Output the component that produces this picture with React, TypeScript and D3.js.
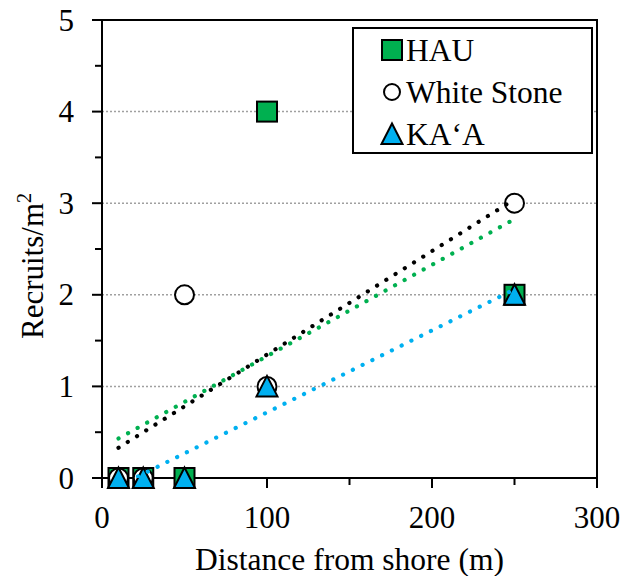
import React from "react";
import * as d3 from "d3";

// distance from shore (m) and recruits per m2 for each site
const distances = [10, 25, 50, 100, 250];
const hauValues = [0, 0, 0, 4, 2];
const whiteStoneValues = [0, 0, 2, 1, 3];
const kaaValues = [0, 0, 0, 1, 2];

const xTicks = [0, 100, 200, 300];
const xMinorTicks = [50, 150, 250];
const yTicks = [0, 1, 2, 3, 4, 5];
const yMinorTicks = [0.5, 1.5, 2.5, 3.5, 4.5];
const gridValues = [1, 2, 3, 4];

const GREEN = "#00B050";
const BLUE = "#00B0F0";
const FONT = "Liberation Serif, Times New Roman, DejaVu Serif, serif";

const W = 634;
const H = 576;
const plot = { left: 102, right: 597, top: 20, bottom: 478 };

// least squares line, same as the spreadsheet trendline
const fit = (xs: number[], ys: number[]) => {
  const mx = d3.mean(xs) as number;
  const my = d3.mean(ys) as number;
  const sxy = d3.sum(xs, (x, i) => (x - mx) * (ys[i] - my));
  const sxx = d3.sum(xs, (x) => (x - mx) ** 2);
  const slope = sxy / sxx;
  return (x: number) => my + slope * (x - mx);
};

const Marker = ({ kind, cx, cy, small = false }: { kind: string; cx: number; cy: number; small?: boolean }) => {
  if (kind === "square")
    return <rect x={cx - 10} y={cy - 10} width={20} height={20} fill={GREEN} stroke="#000" strokeWidth={2} />;
  if (kind === "circle")
    return <circle cx={cx} cy={cy} r={small ? 8 : 9.5} fill="#fff" stroke="#000" strokeWidth={2} />;
  return (
    <path
      d={`M${cx},${cy - 10.5}L${cx + 10.5},${cy + 10}L${cx - 10.5},${cy + 10}Z`}
      fill={BLUE}
      stroke="#000"
      strokeWidth={2}
    />
  );
};

export default function App() {
  const x = d3.scaleLinear().domain([0, 300]).range([plot.left, plot.right]);
  const y = d3.scaleLinear().domain([0, 5]).range([plot.bottom, plot.top]);

  const series = [
    { name: "HAU", values: hauValues, kind: "square", color: GREEN },
    { name: "White Stone", values: whiteStoneValues, kind: "circle", color: "#000" },
    { name: "KA\u2018A", values: kaaValues, kind: "triangle", color: BLUE },
  ];

  const line = d3
    .line<number[]>()
    .x((d) => x(d[0]))
    .y((d) => y(d[1]));

  const xExtent = d3.extent(distances) as [number, number];

  return (
    <svg width={W} height={H} style={{ position: "absolute", left: 0, top: 0, background: "#fff", fontFamily: FONT }}>
      <defs>
        <clipPath id="plotClip">
          <rect x={plot.left} y={plot.top} width={plot.right - plot.left} height={plot.bottom - plot.top} />
        </clipPath>
      </defs>

      {/* gridlines */}
      {gridValues.map((v) => (
        <line key={v} x1={plot.left} x2={plot.right} y1={y(v)} y2={y(v)} stroke="#A0A0A0" strokeWidth={1.5} strokeDasharray="2 2" />
      ))}

      {/* frame and axes */}
      <rect x={plot.left} y={plot.top} width={plot.right - plot.left} height={plot.bottom - plot.top} fill="none" stroke="#000" strokeWidth={2} />
      {xTicks.map((t) => (
        <line key={t} x1={x(t)} x2={x(t)} y1={plot.bottom} y2={plot.bottom + 10} stroke="#000" strokeWidth={2} />
      ))}
      {xMinorTicks.map((t) => (
        <line key={t} x1={x(t)} x2={x(t)} y1={plot.bottom} y2={plot.bottom + 7} stroke="#000" strokeWidth={2} />
      ))}
      {yTicks.map((t) => (
        <line key={t} x1={plot.left - 10} x2={plot.left} y1={y(t)} y2={y(t)} stroke="#000" strokeWidth={2} />
      ))}
      {yMinorTicks.map((t) => (
        <line key={t} x1={plot.left - 7} x2={plot.left} y1={y(t)} y2={y(t)} stroke="#000" strokeWidth={2} />
      ))}

      {/* tick labels */}
      {xTicks.map((t) => (
        <text key={t} x={x(t)} y={528} fontSize={31} textAnchor="middle">
          {t}
        </text>
      ))}
      {yTicks.map((t) => (
        <text key={t} x={74} y={y(t) + 10.5} fontSize={31} textAnchor="end">
          {t}
        </text>
      ))}

      {/* axis titles */}
      <text x={(plot.left + plot.right) / 2} y={570} fontSize={31.5} textAnchor="middle">
        Distance from shore (m)
      </text>
      <text transform="translate(43,266) rotate(-90)" fontSize={31} textAnchor="middle">
        Recruits/m<tspan fontSize={20} dy={-12}>2</tspan>
      </text>

      {/* markers */}
      {series.map((s) => (
        <g key={s.name}>
          {distances.map((d, i) => (
            <Marker key={i} kind={s.kind} cx={x(d)} cy={y(s.values[i])} />
          ))}
        </g>
      ))}

      {/* linear trendlines */}
      <g clipPath="url(#plotClip)">
        {series.map((s) => {
          const f = fit(distances, s.values);
          return (
            <path
              key={s.name}
              d={line(xExtent.map((v) => [v, f(v)])) || ""}
              fill="none"
              stroke={s.color}
              strokeWidth={4.2}
              strokeLinecap="round"
              strokeDasharray="0.1 10.8"
            />
          );
        })}
      </g>

      {/* legend */}
      <rect x={353} y={28} width={239} height={125} fill="#fff" stroke="#000" strokeWidth={2} />
      {series.map((s, i) => {
        const cy = 50 + i * 42;
        return (
          <g key={s.name}>
            <Marker kind={s.kind} cx={392} cy={cy} small />
            <text x={406} y={cy + 10.5} fontSize={31.5}>
              {s.name}
            </text>
          </g>
        );
      })}
    </svg>
  );
}
